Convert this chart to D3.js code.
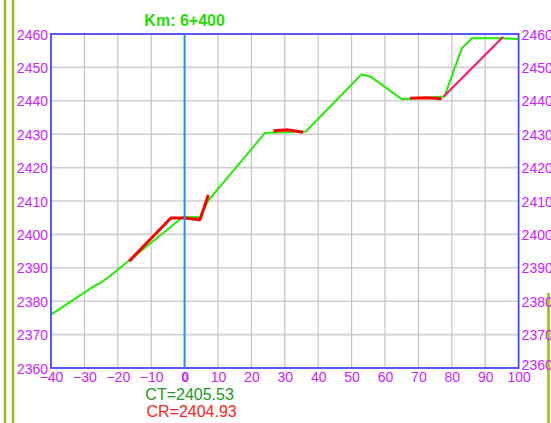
<!DOCTYPE html>
<html><head><meta charset="utf-8">
<script src="https://cdn.jsdelivr.net/npm/d3@7"></script>
<style>html,body{margin:0;padding:0;background:#fff;}svg{display:block;font-family:"Liberation Sans",Arial,sans-serif;}</style>
</head><body>
<svg id="c" width="551" height="423"></svg>
<script>
const title = "Km: 6+400";
const ctLabel = "CT=2405.53";
const crLabel = "CR=2404.93";
const xTicks = [-40,-30,-20,-10,0,10,20,30,40,50,60,70,80,90,100];
const yTicks = [2360,2370,2380,2390,2400,2410,2420,2430,2440,2450,2460];
// terrain (green)
const terrainX = [-40,-27.0,-25.3,-23.0,-0.5,4.6,7.2,24.1,36.3,53.0,55.7,65.0,77.8,83.0,86.0,95.4,100];
const terrainY = [2376.0,2384.6,2385.4,2387.0,2405.2,2405.1,2410.3,2430.4,2430.8,2447.9,2447.2,2440.5,2441.3,2455.7,2458.7,2458.7,2458.5];
// design (red) segments
const red1X = [-16.6,-4.1,0,4.6,7.1];
const red1Y = [2392.0,2404.9,2404.93,2404.4,2411.8];
const red2X = [26.6,31.0,35.5];
const red2Y = [2431.0,2431.3,2430.6];
const red3X = [67.5,72,76.5,76.6];
const red3Y = [2440.8,2440.9,2440.7,2440.2];
// connector (pink)
const pinkX = [77.5,95.4];
const pinkY = [2441.2,2459.2];

const svg = d3.select("#c");
svg.append("rect").attr("width",551).attr("height",423).attr("fill","#fff");

// decorative olive bars
[[5,0,423],[13,0,423],[548.5,293,423]].forEach(d=>{
  svg.append("line").attr("x1",d[0]).attr("x2",d[0]).attr("y1",d[1]).attr("y2",d[2])
    .attr("stroke","#9abb14").attr("stroke-width",2.5);
});

const x = d3.scaleLinear().domain([-40,100]).range([51,518.6]);
const y = d3.scaleLinear().domain([2360,2460]).range([368,34]);

// grid
svg.append("g").selectAll("line").data(yTicks).join("line")
  .attr("x1",x(-40)).attr("x2",x(100)).attr("y1",d=>y(d)).attr("y2",d=>y(d))
  .attr("stroke","#d0d0d0").attr("stroke-width",1.6);
svg.append("g").selectAll("line").data(xTicks).join("line")
  .attr("x1",d=>x(d)).attr("x2",d=>x(d)).attr("y1",y(2360)).attr("y2",y(2460))
  .attr("stroke","#c4c4c4").attr("stroke-width",1.2);

const line = d3.line().x(d=>x(d[0])).y(d=>y(d[1]));
const zip = (a,b)=>a.map((v,i)=>[v,b[i]]);

svg.append("path").datum(zip(terrainX,terrainY)).attr("d",line)
  .attr("fill","none").attr("stroke","#22ee00").attr("stroke-width",2);
svg.append("path").datum(zip(pinkX,pinkY)).attr("d",line)
  .attr("fill","none").attr("stroke","#ff1177").attr("stroke-width",2);
[[red1X,red1Y],[red2X,red2Y],[red3X,red3Y]].forEach(s=>{
  svg.append("path").datum(zip(s[0],s[1])).attr("d",line)
    .attr("fill","none").attr("stroke","#ff0000").attr("stroke-width",3).attr("stroke-linejoin","round");
});

// border
svg.append("rect").attr("x",x(-40)).attr("y",y(2460)).attr("width",x(100)-x(-40)).attr("height",y(2360)-y(2460))
  .attr("fill","none").attr("stroke","#4a4aff").attr("stroke-width",1.8);
// zero line
svg.append("line").attr("x1",x(0)).attr("x2",x(0)).attr("y1",y(2460)).attr("y2",y(2360))
  .attr("stroke","#2a8cff").attr("stroke-width",2);

const mag = "#cc22ff";
// left axis
const yl = svg.append("g").attr("transform",`translate(${x(-40)-3},0)`)
  .call(d3.axisLeft(y).tickValues(yTicks).tickSize(0).tickPadding(0).tickFormat(d3.format("d")));
yl.select(".domain").remove();
yl.selectAll("text").attr("fill",mag).attr("font-size",14).attr("dy","0.36em")
  .attr("font-family","'Liberation Sans',Arial,sans-serif");
// right axis
const yr = svg.append("g").attr("transform",`translate(${x(100)+3},0)`)
  .call(d3.axisRight(y).tickValues(yTicks).tickSize(0).tickPadding(0).tickFormat(d3.format("d")));
yr.select(".domain").remove();
yr.selectAll("text").attr("fill",mag).attr("font-size",14).attr("dy",d=>d===2360?"0.1em":"0.36em")
  .attr("font-family","'Liberation Sans',Arial,sans-serif");
// bottom axis
const xb = svg.append("g").attr("transform",`translate(0,${y(2360)})`)
  .call(d3.axisBottom(x).tickValues(xTicks).tickSize(0).tickPadding(4).tickFormat(d3.format("d")));
xb.select(".domain").remove();
xb.selectAll("text").attr("fill",mag).attr("font-size",14).attr("dy","0.71em")
  .attr("font-weight",d=>d===0?"bold":"normal")
  .attr("font-family","'Liberation Sans',Arial,sans-serif");

// title
svg.append("text").attr("x",x(0)).attr("y",26).attr("text-anchor","middle")
  .attr("fill","#22dd00").attr("font-weight","bold").attr("font-size",16).text(title);
// CT / CR
svg.append("text").attr("x",x(0)+5).attr("y",400).attr("text-anchor","middle")
  .attr("fill","#229922").attr("font-size",16).text(ctLabel);
svg.append("text").attr("x",x(0)+7).attr("y",417).attr("text-anchor","middle")
  .attr("fill","#ff2222").attr("font-size",16).text(crLabel);
</script>
</body></html>
